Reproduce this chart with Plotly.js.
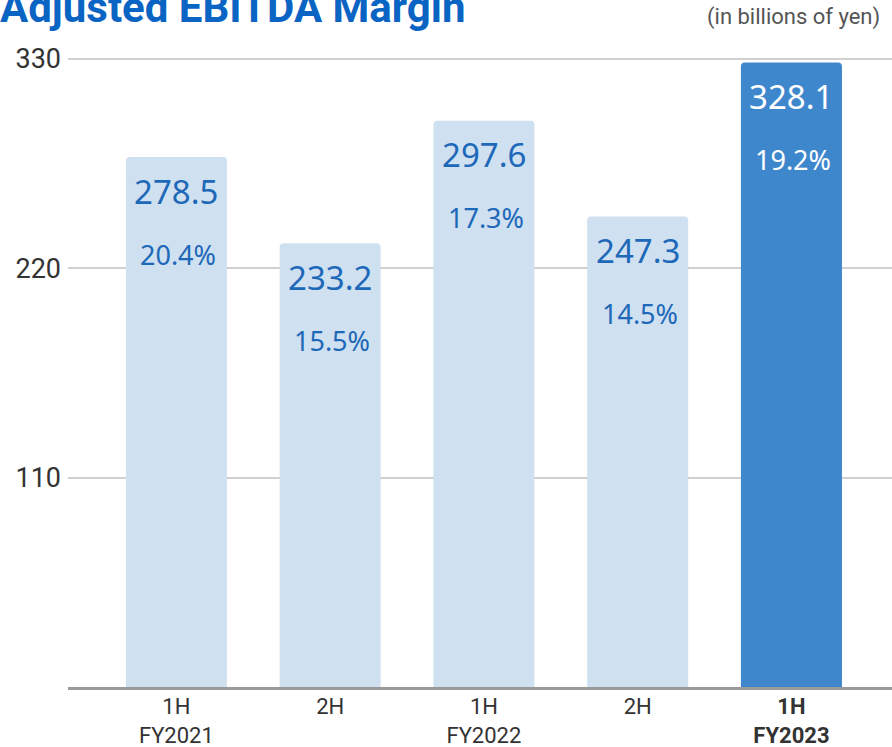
<!DOCTYPE html>
<html>
<head>
<meta charset="utf-8">
<script src="https://cdn.plot.ly/plotly-3.0.1.min.js"></script>
<style>
  html, body { margin: 0; padding: 0; background: #fff; }
  #chart { width: 892px; height: 747px; }
</style>
</head>
<body>
<div id="chart"></div>
<script>
// data
const categories = ['1H FY2021', '2H FY2021', '1H FY2022', '2H FY2022', '1H FY2023'];
const tickLabels = ['1H<br>FY2021', '2H', '1H<br>FY2022', '2H', '<b>1H<br>FY2023</b>'];
const ebitda = [278.5, 233.2, 297.6, 247.3, 328.1];
const margins = [20.4, 15.5, 17.3, 14.5, 19.2];
const yTicks = [110, 220, 330];

const lightBar = '#cfe0f0';
const darkBar = '#3f87cc';
const labelBlue = '#1d68b8';
const narrow = "'Roboto', sans-serif";
const numFont = "'Noto Sans', 'Open Sans', sans-serif";

const last = categories.length - 1;
const barColors = categories.map((c, i) => i === last ? darkBar : lightBar);

// value and margin labels sit inside each bar, offset down from the bar top
const annotations = [];
categories.forEach((c, i) => {
    const col = i === last ? '#ffffff' : labelBlue;
    annotations.push({
        x: c, y: ebitda[i], xref: 'x', yref: 'y',
        text: ebitda[i].toFixed(1), showarrow: false,
        yshift: -34, yanchor: 'middle',
        font: {family: numFont, size: 33, color: col}
    });
    annotations.push({
        x: c, y: ebitda[i], xref: 'x', yref: 'y',
        text: margins[i].toFixed(1) + '%', showarrow: false,
        yshift: -97, xshift: 2, yanchor: 'middle',
        font: {family: numFont, size: 27, color: col}
    });
});
annotations.push({
    xref: 'paper', yref: 'paper', x: 1.0, y: 1.0, xanchor: 'right', yanchor: 'bottom',
    yshift: 23, xshift: -10,
    text: '(in billions of yen)', showarrow: false,
    font: {family: narrow, size: 22, color: '#555555'}
});

const layout = {
    width: 892,
    height: 747,
    margin: {t: 55, r: 0, b: 60, l: 68},
    paper_bgcolor: '#ffffff',
    plot_bgcolor: '#ffffff',
    bargap: 0.343,
    barcornerradius: 4,
    showlegend: false,
    title: {
        text: '<b>Adjusted EBITDA Margin</b>',
        x: 0, xref: 'container', xanchor: 'left',
        y: 0.99, yref: 'container', yanchor: 'middle',
        pad: {l: 0},
        font: {family: narrow, size: 42, color: '#0a64c4'}
    },
    xaxis: {
        type: 'category',
        range: [-0.705, 4.654],
        tickvals: categories,
        ticktext: tickLabels,
        showgrid: false,
        showline: true,
        linecolor: '#9a9a9a',
        linewidth: 3,
        ticks: '',
        ticklabelstandoff: -2,
        tickfont: {family: narrow, size: 22, color: '#333333'}
    },
    yaxis: {
        range: [0, 332.1],
        tickvals: yTicks,
        ticktext: yTicks.map(String),
        showgrid: true,
        gridcolor: '#d0d0d0',
        gridwidth: 2,
        zeroline: false,
        showline: false,
        ticks: '',
        ticklabelstandoff: 6,
        tickfont: {family: narrow, size: 27, color: '#333333'}
    },
    annotations: annotations
};

Plotly.newPlot('chart', [{
    type: 'bar',
    x: categories,
    y: ebitda,
    marker: {color: barColors, line: {width: 0}},
    hoverinfo: 'none'
}], layout, {displayModeBar: false, staticPlot: true});
</script>
</body>
</html>
